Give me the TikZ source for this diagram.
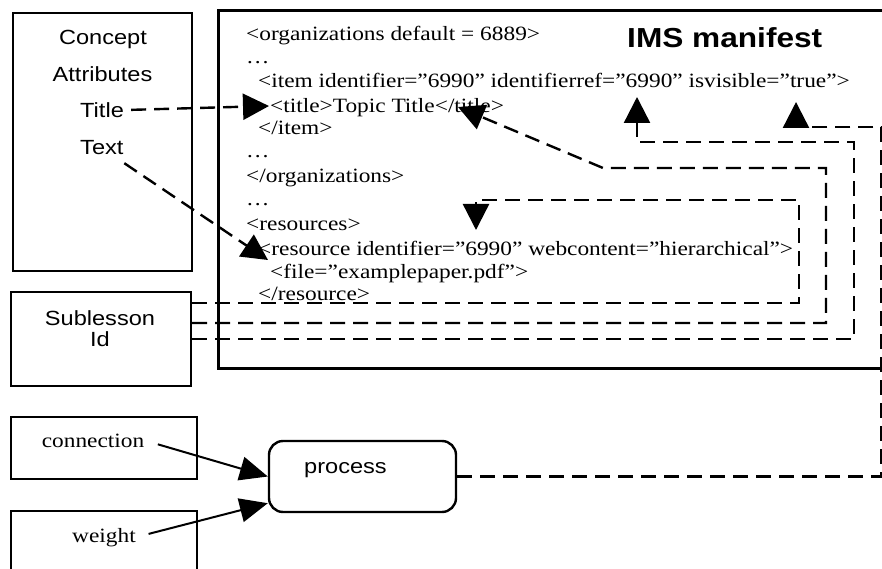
\documentclass[tikz,border=0pt]{standalone}
\usepackage{fontspec}
\setmainfont{Liberation Serif}[FakeStretch=1.15]
\newfontfamily\boxfont{Liberation Sans}[FakeStretch=1.15]
\usetikzlibrary{arrows.meta, shapes, positioning}

\begin{document}
\begin{tikzpicture}[x=1pt, y=-1pt,
    box/.style={draw, line width=2.4pt, inner sep=0pt},
    xml/.style={anchor=base west, inner sep=0pt, font=\fontsize{20.3}{23}\selectfont},
    lbl/.style={anchor=base, inner sep=0pt, font=\boxfont\fontsize{20.5}{24}\selectfont},
    link/.style={line width=2.4pt, dash pattern=on 15pt off 8pt, -{Triangle[length=26pt, width=26pt]}},
    feed/.style={line width=2pt, -{Triangle[length=28pt, width=24pt]}}]
    \clip (0,0) rectangle (882,569);

    \node[box, line width=3pt, anchor=north west, minimum width=720, minimum height=358] (manifest) at (217,9) {};
    \node[box, minimum width=179, minimum height=258] (concept) at (102.5,142) {};
    \node[box, minimum width=180, minimum height=94] (sublesson) at (101,339) {};
    \node[box, minimum width=186, minimum height=62] (connbox) at (104,448) {};
    \node[box, minimum width=186, minimum height=80] (wgtbox) at (104,551) {};
    \node[box, rounded corners=14pt, minimum width=187, minimum height=71] (process) at (362.5,476.5) {};

    \node[lbl] (concepttxt) at (103,45) {Concept};
    \node[lbl] (attr) at (102.5,82) {Attributes};
    \node[lbl, anchor=base west] (titleattr) at (80,118) {Title};
    \node[lbl, anchor=base west] (txtattr) at (80,155) {Text};
    \node[lbl] (sub) at (100,325) {Sublesson};
    \node[lbl] (subid) at (100,346) {Id};
    \node[lbl, anchor=base west] (proclbl) at (304,473) {process};
    \node[xml, anchor=base] (conn) at (93,447) {connection};
    \node[xml, anchor=base] (wgt) at (104,542) {weight};

    \node[anchor=base west, inner sep=0pt, font=\boxfont\bfseries\fontsize{27.5}{30}\selectfont] (ims) at (627,48) {IMS manifest};
    \node[xml] (org) at (246,41) {<organizations default = 6889>};
    \node[xml] (dotsA) at (246,64) {…};
    \node[xml] (item) at (258,88) {<item identifier=”6990” identifierref=”6990” isvisible=”true”>};
    \node[xml] (ttl) at (270,113) {<title>Topic Title</title>};
    \node[xml] (itemend) at (258,135) {</item>};
    \node[xml] (dotsB) at (246,158) {…};
    \node[xml] (orgend) at (246,183) {</organizations>};
    \node[xml] (dotsC) at (246,206) {…};
    \node[xml] (res) at (246,230) {<resources>};
    \node[xml] (resource) at (258,255) {<resource identifier=”6990” webcontent=”hierarchical”>};
    \node[xml] (file) at (270,278) {<file=”examplepaper.pdf”>};
    \node[xml] (resend) at (258,300) {</resource>};

    \coordinate (tTitle) at (269,106);
    \coordinate (tRes) at (268,260);
    \coordinate (tTopic) at (458,107);
    \coordinate (tRef) at (637,97);
    \coordinate (tVis) at (796,102);
    \coordinate (tDoc) at (476,230);

    \draw[link, shorten <=7pt] (titleattr) -- (tTitle);
    \draw[link, shorten <=14pt] (txtattr) -- (tRes);
    \draw[link] ([yshift=36]sublesson.east) -| (799,200) -| (tDoc);
    \draw[link] ([yshift=16]sublesson.east) -| (826,168) -- (603,168) -- (tTopic);
    \draw[link] (sublesson.east) -| (854,142) -| (tRef);
    \draw[link] (process.east) -| (881.5,127) -| (tVis);

    \draw[feed, shorten <=14pt] (conn.east) -- (process.west);
    \draw[feed, shorten <=13pt] (wgt.east) -- ([yshift=10]process.south west);
\end{tikzpicture}
\end{document}
